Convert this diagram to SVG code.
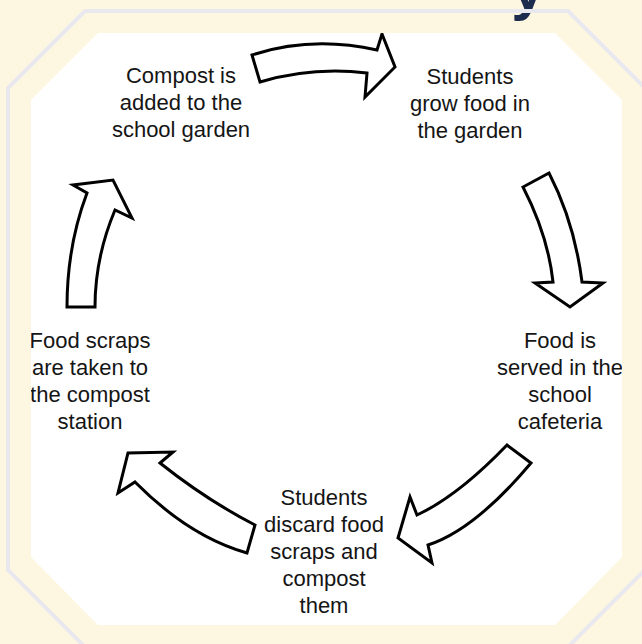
<svg xmlns="http://www.w3.org/2000/svg" width="642" height="644" viewBox="0 0 642 644">
  <style>
    .lbl { font-family: "Liberation Sans", Arial, sans-serif; font-size: 22px; fill: #151515; text-anchor: middle; }
    .arrow { fill: #ffffff; stroke: #000000; stroke-width: 3; stroke-linejoin: miter; }
  </style>
  <defs>
    <clipPath id="inner">
      <polygon points="98,33 555,33 622,100 622,557 555,625 98,625 31,557 31,100"/>
    </clipPath>
  </defs>
  <rect x="0" y="0" width="642" height="644" fill="#fdf6e0"/>
  <text x="528" y="9" font-family="'Liberation Sans', Arial, sans-serif" font-weight="bold" font-size="60" fill="#1d2b4c" text-anchor="middle">y</text>
  <polygon points="85,11 568,11 645,88 645,570 568,647 85,647 8,570 8,88" fill="none" stroke="#e8e8ee" stroke-width="4"/>
  <polygon points="98,33 555,33 622,100 622,557 555,625 98,625 31,557 31,100" fill="#ffffff"/>
  <g clip-path="url(#inner)">
    <g id="connectors">
      <path class="arrow" d="M252,55 Q311.5,35.5 377,50 L382,34 L395,67 L365,97 L367,73 Q312.5,66.5 260,82 Z"/>
      <path class="arrow" d="M549,173 Q574.5,222.5 582,282 L603,283 L570,307 L535,283 L553,282 Q548,235.5 523,187 Z"/>
      <path class="arrow" d="M531,463 Q474.5,530 428,545 L432,563 L398,538 L410,497 L417,515 Q458,496 507,445 Z"/>
      <path class="arrow" d="M247,553 Q189,536.5 135,482 L118,493 L128,453 L173,452 L160,463 Q206.5,500 255,525 Z"/>
      <path class="arrow" d="M95,307 Q95,257.5 115,210 L132,218 L113,180 L73,185 L87,193 Q67,246 67,307 Z"/>
    </g>
    <g id="node-compost-added">
      <text class="lbl" x="181" y="83">Compost is</text>
      <text class="lbl" x="181" y="110">added to the</text>
      <text class="lbl" x="181" y="137">school garden</text>
    </g>
    <g id="node-grow-food">
      <text class="lbl" x="470" y="84">Students</text>
      <text class="lbl" x="470" y="111">grow food in</text>
      <text class="lbl" x="470" y="138">the garden</text>
    </g>
    <g id="node-cafeteria">
      <text class="lbl" x="560" y="348">Food is</text>
      <text class="lbl" x="560" y="375">served in the</text>
      <text class="lbl" x="560" y="402">school</text>
      <text class="lbl" x="560" y="429">cafeteria</text>
    </g>
    <g id="node-discard">
      <text class="lbl" x="324" y="505">Students</text>
      <text class="lbl" x="324" y="532">discard food</text>
      <text class="lbl" x="324" y="559">scraps and</text>
      <text class="lbl" x="324" y="586">compost</text>
      <text class="lbl" x="324" y="613">them</text>
    </g>
    <g id="node-compost-station">
      <text class="lbl" x="90" y="348">Food scraps</text>
      <text class="lbl" x="90" y="375">are taken to</text>
      <text class="lbl" x="90" y="402">the compost</text>
      <text class="lbl" x="90" y="429">station</text>
    </g>
  </g>
</svg>
